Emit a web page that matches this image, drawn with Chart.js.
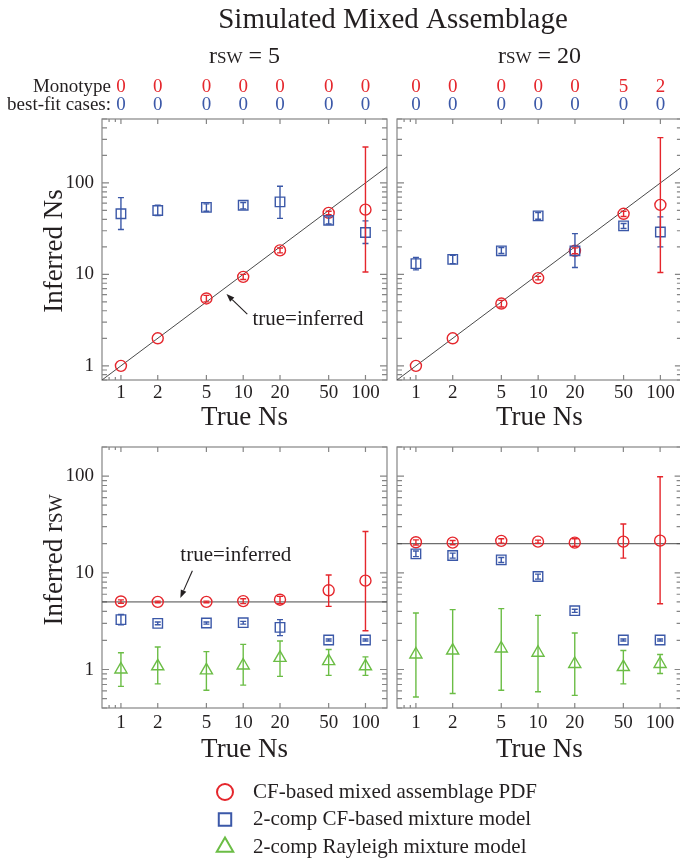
<!DOCTYPE html>
<html>
<head>
<meta charset="utf-8">
<title>Simulated Mixed Assemblage</title>
<script src="https://cdn.jsdelivr.net/npm/chart.js@4.4.1/dist/chart.umd.min.js"></script>
<style>
  html, body { margin:0; padding:0; background:#ffffff; }
  #wrap { position:relative; width:680px; height:859px; overflow:hidden; background:#ffffff; }
  #wrap canvas { position:absolute; left:0; top:0; }
</style>
</head>
<body>
<div id="wrap">
  <canvas id="pTL" width="690" height="859"></canvas>
  <canvas id="pTR" width="690" height="859"></canvas>
  <canvas id="pBL" width="690" height="859"></canvas>
  <canvas id="pBR" width="690" height="859"></canvas>
  <canvas id="pLeg" width="690" height="859"></canvas>
</div>
<script>
// ================= DATA =================
const trueNs = [1, 2, 5, 10, 20, 50, 100];
const xTickValues = [1, 2, 5, 10, 20, 50, 100];
const xMinorTickValues = [0.8, 0.9];
const yTickLabelValues = [1, 10, 100];
const xRange = [0.7, 150];
const nsRange = [0.7, 500];
const rswRange = [0.4, 200];
const rswTrue = [5, 20];

// Monotype best-fit cases (red row / blue row)
const monoCF_r5   = [0, 0, 0, 0, 0, 0, 0];
const monoMix_r5  = [0, 0, 0, 0, 0, 0, 0];
const monoCF_r20  = [0, 0, 0, 0, 0, 5, 2];
const monoMix_r20 = [0, 0, 0, 0, 0, 0, 0];

// Inferred Ns, rsw = 5
const ns_r5_cf    = [1.0, 2.0, 5.45, 9.4, 18.3, 47, 51];
const ns_r5_cfLo  = [1.0, 2.0, 5.0, 8.8, 17.2, 45, 10.6];
const ns_r5_cfHi  = [1.0, 2.0, 5.9, 10.0, 19.4, 49, 247];
const ns_r5_mix   = [46, 50, 54, 57, 62, 39, 28.7];
const ns_r5_mixLo = [31, 44, 49, 52, 41, 35.5, 21.8];
const ns_r5_mixHi = [69, 57, 59, 61, 92, 42.5, 38.5];

// Inferred Ns, rsw = 20
const ns_r20_cf    = [1.0, 2.0, 4.8, 9.1, 18.1, 46, 57.5];
const ns_r20_cfLo  = [1.0, 2.0, 4.4, 8.7, 16.8, 43, 10.5];
const ns_r20_cfHi  = [1.0, 2.0, 5.2, 9.5, 19.5, 49, 313];
const ns_r20_mix   = [13.1, 14.6, 18.1, 43.6, 18.1, 33.9, 29.1];
const ns_r20_mixLo = [11.2, 13.1, 16.9, 40, 11.9, 31.7, 20];
const ns_r20_mixHi = [15.3, 16.2, 19.7, 47.5, 27.9, 36, 42.5];

// Inferred rsw, rsw = 5
const rsw_r5_cf     = [5.05, 5.0, 5.0, 5.1, 5.27, 6.6, 8.3];
const rsw_r5_cfLo   = [4.85, 4.9, 4.9, 4.8, 4.8, 4.5, 2.52];
const rsw_r5_cfHi   = [5.25, 5.1, 5.1, 5.4, 5.7, 9.5, 26.7];
const rsw_r5_mix    = [3.28, 3.0, 3.03, 3.05, 2.73, 2.02, 2.02];
const rsw_r5_mixLo  = [2.9, 2.9, 2.95, 2.95, 2.24, 1.97, 1.97];
const rsw_r5_mixHi  = [3.7, 3.1, 3.1, 3.15, 3.28, 2.07, 2.07];
const rsw_r5_ray    = [1.0, 1.08, 0.98, 1.1, 1.32, 1.22, 1.08];
const rsw_r5_rayLo  = [0.67, 0.71, 0.61, 0.69, 0.85, 0.87, 0.87];
const rsw_r5_rayHi  = [1.49, 1.71, 1.53, 1.82, 1.97, 1.61, 1.35];

// Inferred rsw, rsw = 20
const rsw_r20_cf    = [20.7, 20.5, 21.4, 21, 20.5, 21, 21.5];
const rsw_r20_cfLo  = [19.4, 19.5, 20.3, 20.2, 18.8, 14.2, 4.79];
const rsw_r20_cfHi  = [21.9, 21.6, 22.5, 21.8, 22.5, 32, 98.5];
const rsw_r20_mix   = [15.7, 15.1, 13.6, 9.17, 4.06, 2.02, 2.02];
const rsw_r20_mixLo = [14.7, 14.2, 12.8, 8.6, 3.9, 1.97, 1.97];
const rsw_r20_mixHi = [16.8, 16.0, 14.4, 9.7, 4.2, 2.07, 2.07];
const rsw_r20_ray   = [1.43, 1.57, 1.65, 1.49, 1.14, 1.06, 1.14];
const rsw_r20_rayLo = [0.52, 0.565, 0.61, 0.59, 0.54, 0.71, 0.91];
const rsw_r20_rayHi = [3.84, 4.16, 4.26, 3.63, 2.39, 1.57, 1.43];

const seriesLabels = ['CF-based mixed assemblage PDF', '2-comp CF-based mixture model', '2-comp Rayleigh mixture model'];

// ================= STYLE =================
const FONT = "'Liberation Serif','Times New Roman',serif";
const RED = '#e5262c', BLUE = '#3b58a8', GREEN = '#6bbd45', INK = '#231f20', FRAME = '#858585', REFLINE = '#4a4a4a';

function pts(vals) { return trueNs.map((x, i) => ({ x: x, y: vals[i] })); }

function markerSet(label, vals, lo, hi, shape, radius, color) {
  return {
    type: 'scatter', label: label, data: pts(vals), errLo: lo, errHi: hi,
    pointStyle: shape, pointRadius: radius, pointHoverRadius: radius,
    borderColor: color, pointBorderColor: color,
    backgroundColor: 'rgba(0,0,0,0)', pointBackgroundColor: 'rgba(0,0,0,0)',
    borderWidth: 1.4, pointBorderWidth: 1.4, showLine: false, order: 0
  };
}
function refLine(p1, p2) {
  return { type: 'line', label: 'true=inferred', data: [p1, p2], borderColor: REFLINE,
           borderWidth: 1, pointRadius: 0, fill: false, tension: 0, order: 5 };
}

function seg(ctx, x1, y1, x2, y2) { ctx.moveTo(x1, y1); ctx.lineTo(x2, y2); }

// small-caps subscript part ("sw"): use canvas small caps if supported, else reduced uppercase
let smallCapsOK = null;
function smallCapsPart(text, size) {
  if (smallCapsOK === null) {
    const c = document.createElement('canvas').getContext('2d');
    c.font = size + 'px ' + FONT;
    const w1 = c.measureText('sw').width;
    c.font = 'small-caps ' + size + 'px ' + FONT;
    const w2 = c.measureText('sw').width;
    smallCapsOK = Math.abs(w1 - w2) > 0.5;
  }
  if (smallCapsOK) return { t: text, f: 'small-caps ' + size + 'px ' + FONT };
  return { t: text.toUpperCase(), f: Math.round(size * 0.7) + 'px ' + FONT };
}

function rich(ctx, parts, x, y, align) {
  let w = 0;
  parts.forEach(p => { ctx.font = p.f; p.w = ctx.measureText(p.t).width; w += p.w; });
  let cx = align === 'center' ? x - w / 2 : (align === 'right' ? x - w : x);
  ctx.textAlign = 'left';
  parts.forEach(p => { ctx.font = p.f; ctx.fillText(p.t, cx, y); cx += p.w; });
}

function makeDeco(cfg) {
  return {
    id: 'deco',
    beforeDatasetsDraw(chart) {
      const { ctx, chartArea: a, scales: { x, y } } = chart;
      ctx.save();
      ctx.strokeStyle = FRAME; ctx.lineWidth = 1.2;
      ctx.strokeRect(a.left, a.top, a.right - a.left, a.bottom - a.top);
      ctx.beginPath();
      xTickValues.forEach(v => { const p = x.getPixelForValue(v); seg(ctx, p, a.top, p, a.top + 5); seg(ctx, p, a.bottom, p, a.bottom - 5); });
      xMinorTickValues.forEach(v => { const p = x.getPixelForValue(v); seg(ctx, p, a.top, p, a.top + 3); seg(ctx, p, a.bottom, p, a.bottom - 3); });
      const d0 = Math.floor(Math.log10(y.min)), d1 = Math.ceil(Math.log10(y.max));
      for (let d = d0; d <= d1; d++) {
        for (let m = 1; m <= 9; m++) {
          const v = m * Math.pow(10, d);
          if (v < y.min * 0.999 || v > y.max * 1.001) continue;
          const p = y.getPixelForValue(v), L = m === 1 ? 7 : 5;
          seg(ctx, a.left, p, a.left + L, p); seg(ctx, a.right, p, a.right - L, p);
        }
      }
      ctx.stroke();
      ctx.restore();
    },
    afterDatasetsDraw(chart) {
      const { ctx, chartArea: a, scales: { x, y } } = chart;
      // error bars
      ctx.save();
      chart.data.datasets.forEach(ds => {
        if (!ds.errLo) return;
        ctx.strokeStyle = ds.borderColor; ctx.lineWidth = 1.4;
        ctx.beginPath();
        ds.data.forEach((p, j) => {
          const px = x.getPixelForValue(p.x);
          const y1 = y.getPixelForValue(ds.errLo[j]), y2 = y.getPixelForValue(ds.errHi[j]);
          if (Math.abs(y1 - y2) < 1) return;
          seg(ctx, px, y1, px, y2);
          seg(ctx, px - 3, y1, px + 3, y1);
          seg(ctx, px - 3, y2, px + 3, y2);
        });
        ctx.stroke();
      });
      ctx.restore();

      ctx.save();
      ctx.fillStyle = INK; ctx.textBaseline = 'alphabetic';
      if (cfg.title) {
        ctx.font = '29px ' + FONT; ctx.textAlign = 'center';
        ctx.fillText(cfg.title, cfg.titleX, 28);
      }
      if (cfg.header) {
        rich(ctx, [{ t: 'r', f: '24px ' + FONT }, smallCapsPart('sw', 24), { t: ' = ' + cfg.header, f: '24px ' + FONT }],
             (a.left + a.right) / 2, 63, 'center');
      }
      if (cfg.rowLabels) {
        ctx.fillStyle = INK; ctx.font = '19px ' + FONT; ctx.textAlign = 'right';
        ctx.fillText('Monotype', a.left + 9, 92);
        ctx.fillText('best-fit cases:', a.left + 9, 110);
      }
      if (cfg.counts) {
        ctx.font = '19px ' + FONT; ctx.textAlign = 'center';
        cfg.counts.forEach((row, r) => {
          ctx.fillStyle = r === 0 ? RED : BLUE;
          row.forEach((c, i) => ctx.fillText(String(c), x.getPixelForValue(trueNs[i]), r === 0 ? 92 : 110));
        });
      }
      if (cfg.yTitle) {
        ctx.save();
        ctx.fillStyle = INK;
        ctx.translate(a.left - 40, cfg.yTitleY);
        ctx.rotate(-Math.PI / 2);
        rich(ctx, cfg.yTitle(), 0, 0, 'center');
        ctx.restore();
      }
      if (cfg.note) {
        const n = cfg.note;
        ctx.fillStyle = INK; ctx.font = '21px ' + FONT; ctx.textAlign = 'left'; ctx.textBaseline = 'middle';
        ctx.fillText(n.text, x.getPixelForValue(n.tx), y.getPixelForValue(n.ty));
        const x1 = x.getPixelForValue(n.ax1), y1 = y.getPixelForValue(n.ay1);
        const x2 = x.getPixelForValue(n.ax2), y2 = y.getPixelForValue(n.ay2);
        const ang = Math.atan2(y2 - y1, x2 - x1);
        const bx = x2 - 8 * Math.cos(ang), by = y2 - 8 * Math.sin(ang);
        ctx.strokeStyle = INK; ctx.lineWidth = 1.1;
        ctx.beginPath(); ctx.moveTo(x1, y1); ctx.lineTo(bx, by); ctx.stroke();
        ctx.beginPath();
        ctx.moveTo(x2, y2);
        ctx.lineTo(bx + 3 * Math.sin(ang), by - 3 * Math.cos(ang));
        ctx.lineTo(bx - 3 * Math.sin(ang), by + 3 * Math.cos(ang));
        ctx.closePath(); ctx.fill();
      }
      ctx.restore();
    }
  };
}

function makePanel(id, cfg) {
  const yW = cfg.showY ? 40 : 0;
  return new Chart(document.getElementById(id), {
    type: 'scatter',
    data: { datasets: cfg.datasets },
    options: {
      responsive: false, animation: false, events: [], devicePixelRatio: 1,
      layout: { padding: cfg.padding },
      plugins: { legend: { display: false }, tooltip: { enabled: false } },
      scales: {
        x: {
          type: 'logarithmic', min: xRange[0], max: xRange[1], bounds: 'data',
          grid: { display: false, drawTicks: false }, border: { display: false },
          ticks: { autoSkip: false, maxRotation: 0, minRotation: 0, padding: cfg.xTickPad, color: INK,
                   font: { family: FONT, size: 19, lineHeight: 1.2 }, callback: v => String(v) },
          title: { display: true, text: 'True Ns', color: INK, font: { family: FONT, size: 27, lineHeight: 1 }, padding: 0 },
          afterBuildTicks: s => { s.ticks = xTickValues.map(v => ({ value: v })); },
          afterFit: s => { s.height = cfg.xAxisH; }
        },
        y: {
          type: 'logarithmic', min: cfg.yRange[0], max: cfg.yRange[1], bounds: 'data', display: cfg.showY,
          grid: { display: false, drawTicks: false }, border: { display: false },
          ticks: { autoSkip: false, padding: 8, color: INK, font: { family: FONT, size: 19 }, callback: v => String(v) },
          afterBuildTicks: s => { s.ticks = yTickLabelValues.map(v => ({ value: v })); },
          afterFit: s => { s.width = yW; }
        }
      }
    },
    plugins: [makeDeco(cfg)]
  });
}

const W = 690, Hc = 859;
const topPad = { left: 62, right: W - 387, top: 119, bottom: Hc - (380 + 51.5) };
const topPadR = { left: 397, right: W - 682, top: 119, bottom: Hc - (380 + 51.5) };
const botPad = { left: 62, right: W - 387, top: 447, bottom: Hc - (708 + 55.5) };
const botPadR = { left: 397, right: W - 682, top: 447, bottom: Hc - (708 + 55.5) };

// Top-left: Inferred Ns, rsw = 5
makePanel('pTL', {
  padding: topPad, xAxisH: 51.5, xTickPad: 2, yRange: nsRange, showY: true,
  datasets: [
    refLine({ x: xRange[0], y: xRange[0] }, { x: xRange[1], y: xRange[1] }),
    markerSet(seriesLabels[1], ns_r5_mix, ns_r5_mixLo, ns_r5_mixHi, 'rect', 6.7, BLUE),
    markerSet(seriesLabels[0], ns_r5_cf, ns_r5_cfLo, ns_r5_cfHi, 'circle', 5.5, RED)
  ],
  title: 'Simulated Mixed Assemblage', titleX: 393,
  header: String(rswTrue[0]), rowLabels: true, counts: [monoCF_r5, monoMix_r5],
  yTitle: () => [{ t: 'Inferred Ns', f: '27px ' + FONT }], yTitleY: 251,
  note: { text: 'true=inferred', tx: 11.9, ty: 3.24, ax1: 10.8, ay1: 3.67, ax2: 7.3, ay2: 6.1 }
});

// Top-right: Inferred Ns, rsw = 20
makePanel('pTR', {
  padding: topPadR, xAxisH: 51.5, xTickPad: 2, yRange: nsRange, showY: false,
  datasets: [
    refLine({ x: xRange[0], y: xRange[0] }, { x: xRange[1], y: xRange[1] }),
    markerSet(seriesLabels[1], ns_r20_mix, ns_r20_mixLo, ns_r20_mixHi, 'rect', 6.7, BLUE),
    markerSet(seriesLabels[0], ns_r20_cf, ns_r20_cfLo, ns_r20_cfHi, 'circle', 5.5, RED)
  ],
  header: String(rswTrue[1]), counts: [monoCF_r20, monoMix_r20]
});

// Bottom-left: Inferred rsw, rsw = 5
makePanel('pBL', {
  padding: botPad, xAxisH: 55.5, xTickPad: 3.6, yRange: rswRange, showY: true,
  datasets: [
    refLine({ x: xRange[0], y: rswTrue[0] }, { x: xRange[1], y: rswTrue[0] }),
    markerSet(seriesLabels[2], rsw_r5_ray, rsw_r5_rayLo, rsw_r5_rayHi, 'triangle', 7, GREEN),
    markerSet(seriesLabels[1], rsw_r5_mix, rsw_r5_mixLo, rsw_r5_mixHi, 'rect', 6.7, BLUE),
    markerSet(seriesLabels[0], rsw_r5_cf, rsw_r5_cfLo, rsw_r5_cfHi, 'circle', 5.5, RED)
  ],
  yTitle: () => [{ t: 'Inferred r', f: '27px ' + FONT }, smallCapsPart('sw', 27)], yTitleY: 560,
  note: { text: 'true=inferred', tx: 3.06, ty: 15, ax1: 3.84, ay1: 10.5, ax2: 3.06, ay2: 5.5 }
});

// Bottom-right: Inferred rsw, rsw = 20
makePanel('pBR', {
  padding: botPadR, xAxisH: 55.5, xTickPad: 3.6, yRange: rswRange, showY: false,
  datasets: [
    refLine({ x: xRange[0], y: rswTrue[1] }, { x: xRange[1], y: rswTrue[1] }),
    markerSet(seriesLabels[2], rsw_r20_ray, rsw_r20_rayLo, rsw_r20_rayHi, 'triangle', 7, GREEN),
    markerSet(seriesLabels[1], rsw_r20_mix, rsw_r20_mixLo, rsw_r20_mixHi, 'rect', 6.7, BLUE),
    markerSet(seriesLabels[0], rsw_r20_cf, rsw_r20_cfLo, rsw_r20_cfHi, 'circle', 5.5, RED)
  ]
});

// Legend chart
function drawMarker(ctx, style, r, cx, cy) {
  if (Chart.helpers && Chart.helpers.drawPoint) {
    Chart.helpers.drawPoint(ctx, { pointStyle: style, radius: r, borderWidth: ctx.lineWidth, rotation: 0 }, cx, cy);
    return;
  }
  ctx.beginPath();
  if (style === 'circle') ctx.arc(cx, cy, r, 0, Math.PI * 2);
  else if (style === 'rect') { const s = r * Math.SQRT1_2; ctx.rect(cx - s, cy - s, 2 * s, 2 * s); }
  else { for (let k = 0; k < 3; k++) { const an = k * 2 * Math.PI / 3; const px = cx + Math.sin(an) * r, py = cy - Math.cos(an) * r; k ? ctx.lineTo(px, py) : ctx.moveTo(px, py); } ctx.closePath(); }
  ctx.stroke();
}
const legendRows = {
  id: 'legendRows',
  afterDraw(chart) {
    const ctx = chart.ctx;
    chart.data.datasets.forEach((ds, i) => {
      const cy = 792 + i * 27.5;
      ctx.save();
      ctx.strokeStyle = ds.borderColor; ctx.fillStyle = 'rgba(0,0,0,0)'; ctx.lineWidth = ds.borderWidth;
      drawMarker(ctx, ds.pointStyle, ds.pointRadius, 225, cy);
      ctx.fillStyle = INK; ctx.font = '21px ' + FONT; ctx.textAlign = 'left'; ctx.textBaseline = 'middle';
      ctx.fillText(ds.label, 253, cy);
      ctx.restore();
    });
  }
};
new Chart(document.getElementById('pLeg'), {
  type: 'scatter',
  data: { datasets: [
    { label: seriesLabels[0], data: [], pointStyle: 'circle', pointRadius: 8, borderColor: RED, borderWidth: 2 },
    { label: seriesLabels[1], data: [], pointStyle: 'rect', pointRadius: 8.8, borderColor: BLUE, borderWidth: 2 },
    { label: seriesLabels[2], data: [], pointStyle: 'triangle', pointRadius: 9.5, borderColor: GREEN, borderWidth: 2 }
  ] },
  options: { responsive: false, animation: false, events: [], devicePixelRatio: 1,
    scales: { x: { display: false }, y: { display: false } },
    plugins: { legend: { display: false }, tooltip: { enabled: false } } },
  plugins: [legendRows]
});
</script>
</body>
</html>
